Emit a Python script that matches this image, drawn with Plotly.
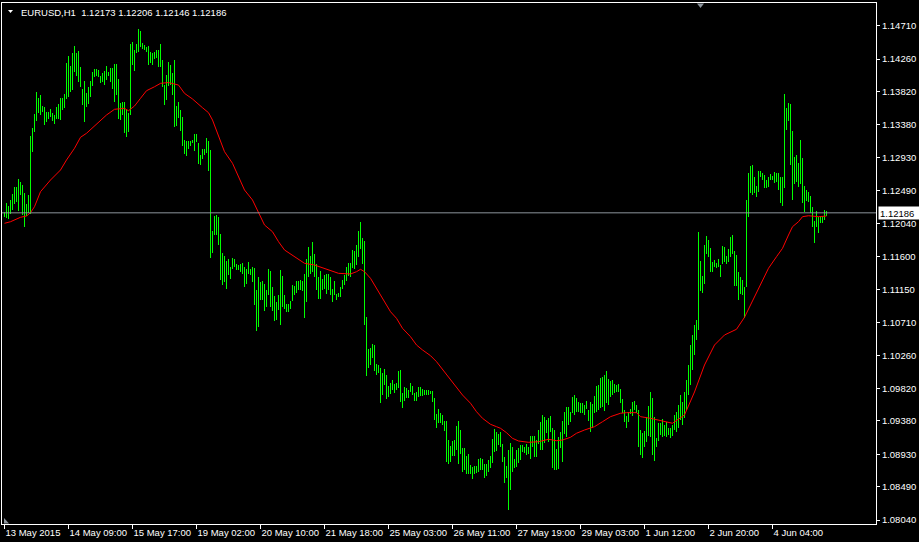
import plotly.graph_objects as go

# ---------------- data (EURUSD H1, bar index = hours since first bar) ----------------
high = [
    1.12191, 1.12321, 1.12276, 1.12357, 1.12438, 1.12528, 1.12537, 1.12641, 1.12605, 1.12560,
    1.12452, 1.12303, 1.12425, 1.13221, 1.13325, 1.13514, 1.13815, 1.13730, 1.13775, 1.13626,
    1.13608, 1.13550, 1.13545, 1.13581, 1.13536, 1.13505, 1.13608, 1.13653, 1.13730, 1.13734,
    1.13788, 1.14202, 1.14306, 1.14166, 1.14337, 1.14436, 1.14337, 1.14368, 1.14157, 1.13856,
    1.13964, 1.13806, 1.13887, 1.13964, 1.14089, 1.14121, 1.14121, 1.14112, 1.14031, 1.14067,
    1.14103, 1.14166, 1.14089, 1.14144, 1.14135, 1.14193, 1.14188, 1.13990, 1.13662, 1.13685,
    1.13676, 1.13572, 1.13527, 1.14463, 1.14494, 1.14382, 1.14463, 1.14661, 1.14638, 1.14481,
    1.14449, 1.14427, 1.14436, 1.14360, 1.14337, 1.14360, 1.14382, 1.14382, 1.14463, 1.14247,
    1.13910, 1.14045, 1.14225, 1.14180, 1.14067, 1.14247, 1.13626, 1.13685, 1.13572, 1.13482,
    1.13167, 1.13153, 1.13153, 1.13153, 1.13167, 1.13248, 1.13248, 1.13122, 1.12964, 1.13041,
    1.13054, 1.13189, 1.13153, 1.13032, 1.11939, 1.12141, 1.12154, 1.12132, 1.11907, 1.11650,
    1.11601, 1.11538, 1.11569, 1.11457, 1.11579, 1.11569, 1.11502, 1.11479, 1.11502, 1.11511,
    1.11457, 1.11434, 1.11524, 1.11434, 1.11457, 1.11448, 1.11142, 1.11322, 1.11254, 1.11268,
    1.11223, 1.11142, 1.11434, 1.11403, 1.11187, 1.11061, 1.10984, 1.11074, 1.11412, 1.11331,
    1.11074, 1.10962, 1.10962, 1.10998, 1.11209, 1.11196, 1.11268, 1.11268, 1.11277, 1.11268,
    1.11367, 1.11569, 1.11727, 1.11601, 1.11794, 1.11637, 1.11502, 1.11322, 1.11403, 1.11299,
    1.11344, 1.11367, 1.11367, 1.11322, 1.11164, 1.11268, 1.11097, 1.11108, 1.11189, 1.11279,
    1.11346, 1.11459, 1.11504, 1.11513, 1.11684, 1.11671, 1.11751, 1.11940, 1.12058, 1.11841,
    1.11806, 1.10775, 1.10343, 1.10357, 1.10415, 1.10402, 1.10145, 1.10132, 1.10087, 1.10019,
    1.10073, 1.09996, 1.09848, 1.09884, 1.09929, 1.09875, 1.09884, 1.10051, 1.10064, 1.09749,
    1.09839, 1.09817, 1.09794, 1.09884, 1.09848, 1.09749, 1.09772, 1.09830, 1.09839, 1.09808,
    1.09794, 1.09794, 1.09794, 1.09781, 1.09781, 1.09682, 1.09470, 1.09538, 1.09479, 1.09457,
    1.09380, 1.09380, 1.09119, 1.09038, 1.09110, 1.09119, 1.09308, 1.09376, 1.09254, 1.09020,
    1.09007, 1.08903, 1.08939, 1.08782, 1.08759, 1.08768, 1.08768, 1.08863, 1.08881, 1.08863,
    1.08804, 1.08795, 1.08858, 1.08903, 1.09133, 1.09268, 1.09232, 1.09200, 1.09223, 1.09074,
    1.08894, 1.08769, 1.08985, 1.09075, 1.09021, 1.08868, 1.08985, 1.09008, 1.09053, 1.09053,
    1.09030, 1.09066, 1.09021, 1.09174, 1.09174, 1.09174, 1.09120, 1.09255, 1.09368, 1.09458,
    1.09435, 1.09390, 1.09413, 1.09444, 1.09278, 1.09255, 1.08994, 1.09165, 1.09233, 1.09377,
    1.09503, 1.09561, 1.09570, 1.09503, 1.09696, 1.09728, 1.09683, 1.09638, 1.09624, 1.09615,
    1.09593, 1.09651, 1.09525, 1.09638, 1.09606, 1.09714, 1.09849, 1.09863, 1.09953, 1.09975,
    1.09998, 1.10052, 1.09939, 1.09921, 1.09930, 1.09876, 1.09863, 1.09876, 1.09804, 1.09669,
    1.09525, 1.09444, 1.09503, 1.09534, 1.09638, 1.09651, 1.09593, 1.09525, 1.09255, 1.09219,
    1.09246, 1.09426, 1.09579, 1.09764, 1.09683, 1.09435, 1.09143, 1.09345, 1.09345, 1.09399,
    1.09323, 1.09368, 1.09278, 1.09278, 1.09323, 1.09459, 1.09499, 1.09594, 1.09729, 1.09634,
    1.09769, 1.09931, 1.10133, 1.10403, 1.10538, 1.10673, 1.10740, 1.11931, 1.11535, 1.11332,
    1.11750, 1.11872, 1.11818, 1.11715, 1.11526, 1.11548, 1.11512, 1.11562, 1.11481, 1.11737,
    1.11719, 1.11607, 1.11692, 1.11863, 1.11886, 1.11670, 1.11616, 1.11391, 1.11323, 1.11278,
    1.11188, 1.12358, 1.12727, 1.12817, 1.12831, 1.12664, 1.12547, 1.12750, 1.12750, 1.12727,
    1.12696, 1.12628, 1.12673, 1.12709, 1.12682, 1.12732, 1.12718, 1.12727, 1.12673, 1.12673,
    1.13789, 1.13605, 1.13672, 1.13654, 1.13290, 1.12943, 1.12966, 1.12853, 1.13168, 1.12930,
    1.12547, 1.12493, 1.12471, 1.12412, 1.12268, 1.12079, 1.12210, 1.12133, 1.12124, 1.12142,
    1.12223, 1.12206,
]

low = [
    1.12132, 1.12123, 1.12101, 1.12164, 1.12222, 1.12299, 1.12335, 1.12213, 1.12425, 1.12155,
    1.11997, 1.12141, 1.12186, 1.12177, 1.13010, 1.13280, 1.13428, 1.13527, 1.13505, 1.13550,
    1.13370, 1.13415, 1.13446, 1.13473, 1.13428, 1.13383, 1.13446, 1.13446, 1.13442, 1.13572,
    1.13595, 1.13721, 1.13743, 1.13820, 1.13842, 1.14089, 1.14036, 1.13950, 1.13878, 1.13640,
    1.13415, 1.13608, 1.13653, 1.13752, 1.13896, 1.14013, 1.14031, 1.14022, 1.13932, 1.13955,
    1.13910, 1.13977, 1.14031, 1.13950, 1.13851, 1.13685, 1.13775, 1.13446, 1.13437, 1.13505,
    1.13257, 1.13212, 1.13280, 1.13505, 1.14179, 1.14098, 1.14337, 1.14360, 1.14427, 1.14391,
    1.14382, 1.14351, 1.14179, 1.14202, 1.14179, 1.14256, 1.14270, 1.14157, 1.14148, 1.13878,
    1.13640, 1.13707, 1.13896, 1.13910, 1.13775, 1.13347, 1.13356, 1.13460, 1.13289, 1.13090,
    1.12978, 1.12955, 1.13054, 1.13086, 1.13122, 1.13023, 1.13144, 1.12843, 1.12829, 1.12906,
    1.12964, 1.12996, 1.12753, 1.11579, 1.11646, 1.11884, 1.11884, 1.11749, 1.11277, 1.11209,
    1.11254, 1.11160, 1.11344, 1.11299, 1.11435, 1.11457, 1.11421, 1.11412, 1.11390, 1.11367,
    1.11187, 1.11232, 1.11367, 1.11344, 1.11254, 1.10939, 1.10593, 1.10647, 1.11007, 1.11007,
    1.10863, 1.10917, 1.11074, 1.10917, 1.10863, 1.10728, 1.10737, 1.10872, 1.10669, 1.10917,
    1.10894, 1.10849, 1.10849, 1.10894, 1.10998, 1.11074, 1.11106, 1.11142, 1.11142, 1.11133,
    1.10769, 1.10984, 1.11322, 1.11367, 1.11390, 1.11322, 1.11142, 1.11029, 1.11029, 1.11142,
    1.11164, 1.11097, 1.11142, 1.11074, 1.10984, 1.11074, 1.11007, 1.11045, 1.11054, 1.11153,
    1.11211, 1.11270, 1.11333, 1.11315, 1.11436, 1.11423, 1.11481, 1.11594, 1.11693, 1.11495,
    1.10671, 1.09983, 1.10087, 1.10132, 1.10221, 1.10055, 1.09996, 1.10019, 1.09623, 1.09727,
    1.09862, 1.09677, 1.09704, 1.09740, 1.09794, 1.09758, 1.09794, 1.09817, 1.09637, 1.09555,
    1.09650, 1.09682, 1.09691, 1.09772, 1.09727, 1.09650, 1.09650, 1.09704, 1.09713, 1.09713,
    1.09722, 1.09727, 1.09727, 1.09736, 1.09637, 1.09389, 1.09277, 1.09344, 1.09344, 1.09322,
    1.09245, 1.08822, 1.08804, 1.08827, 1.08903, 1.08903, 1.08984, 1.08804, 1.08939, 1.08692,
    1.08714, 1.08660, 1.08669, 1.08669, 1.08593, 1.08660, 1.08678, 1.08687, 1.08723, 1.08714,
    1.08611, 1.08638, 1.08692, 1.08737, 1.08813, 1.08962, 1.08975, 1.09052, 1.09029, 1.08818,
    1.08543, 1.08608, 1.08177, 1.08447, 1.08689, 1.08737, 1.08751, 1.08805, 1.08850, 1.08963,
    1.08949, 1.08918, 1.08931, 1.08859, 1.09021, 1.08895, 1.08895, 1.09066, 1.08985, 1.08985,
    1.09084, 1.09219, 1.09098, 1.09233, 1.08737, 1.08715, 1.08715, 1.08724, 1.09008, 1.08828,
    1.09201, 1.09156, 1.09323, 1.09368, 1.09480, 1.09458, 1.09503, 1.09503, 1.09480, 1.09489,
    1.09458, 1.09534, 1.09381, 1.09233, 1.09278, 1.09489, 1.09503, 1.09525, 1.09548, 1.09570,
    1.09516, 1.09624, 1.09593, 1.09705, 1.09728, 1.09750, 1.09764, 1.09773, 1.09615, 1.09489,
    1.09368, 1.09278, 1.09368, 1.09471, 1.09444, 1.09525, 1.09480, 1.09021, 1.08918, 1.08873,
    1.09021, 1.09098, 1.09174, 1.09165, 1.08918, 1.08841, 1.09021, 1.09111, 1.09188, 1.09165,
    1.09174, 1.09156, 1.09188, 1.09143, 1.09174, 1.09256, 1.09229, 1.09283, 1.09391, 1.09324,
    1.09418, 1.09526, 1.09729, 1.09863, 1.10066, 1.10268, 1.10470, 1.10605, 1.11134, 1.11107,
    1.11224, 1.11629, 1.11584, 1.11391, 1.11391, 1.11458, 1.11436, 1.11449, 1.11314, 1.11494,
    1.11526, 1.11490, 1.11517, 1.11593, 1.11629, 1.11203, 1.11197, 1.11008, 1.11089, 1.11076,
    1.10774, 1.11179, 1.12133, 1.12448, 1.12426, 1.12448, 1.12403, 1.12471, 1.12673, 1.12628,
    1.12516, 1.12516, 1.12538, 1.12628, 1.12628, 1.12583, 1.12606, 1.12493, 1.12313, 1.12277,
    1.12525, 1.13303, 1.13429, 1.12831, 1.12358, 1.12574, 1.12606, 1.12529, 1.12574, 1.12322,
    1.12200, 1.12349, 1.12336, 1.12178, 1.11989, 1.11773, 1.11989, 1.11917, 1.12052, 1.12043,
    1.12088, 1.12146,
]

# moving average (red line) read at sample bars
ma_bar = [0, 3, 8, 11, 13, 15, 18, 23, 28, 31, 35, 38, 41, 45, 48, 51, 55, 58, 60, 62,
          65, 68, 71, 75, 78, 82, 87, 90, 94, 99, 102, 104, 107, 110, 114, 117, 120, 124, 127, 130,
          134, 137, 140, 144, 147, 150, 155, 160, 164, 167, 173, 176, 178, 180, 183, 186, 189, 193, 196, 199,
          203, 206, 209, 213, 216, 219, 223, 226, 229, 233, 236, 239, 243, 246, 248, 251, 254, 257, 262, 267,
          272, 276, 279, 283, 286, 290, 295, 299, 303, 308, 311, 316, 318, 323, 327, 330, 334, 340, 345, 350,
          355, 360, 366, 370, 372, 376, 379, 382, 386, 389, 392, 394, 397, 399, 402, 404, 407, 411]
ma_val = [1.12045, 1.12066, 1.12126, 1.12143, 1.12188, 1.12269, 1.12471, 1.12629, 1.12764, 1.12899,
          1.13057, 1.13205, 1.13259, 1.13357, 1.13438, 1.13506, 1.13583, 1.13596, 1.13596, 1.13564,
          1.13627, 1.13731, 1.13834, 1.13887, 1.13933, 1.13944, 1.13910, 1.13798, 1.13722, 1.13604,
          1.13537, 1.13438, 1.13236, 1.13011, 1.12854, 1.12673, 1.12494, 1.12359, 1.12180, 1.12022,
          1.11931, 1.11797, 1.11685, 1.11617, 1.11563, 1.11505, 1.11482, 1.11438, 1.11405, 1.11370,
          1.11361, 1.11392, 1.11424, 1.11392, 1.11303, 1.11168, 1.11019, 1.10852, 1.10763, 1.10628,
          1.10515, 1.10403, 1.10336, 1.10259, 1.10178, 1.10075, 1.09931, 1.09819, 1.09728, 1.09617,
          1.09503, 1.09414, 1.09333, 1.09301, 1.09279, 1.09220, 1.09144, 1.09108, 1.09090, 1.09098,
          1.09131, 1.09112, 1.09121, 1.09158, 1.09212, 1.09256, 1.09301, 1.09368, 1.09436, 1.09482,
          1.09490, 1.09490, 1.09436, 1.09414, 1.09391, 1.09368, 1.09347, 1.09459, 1.09769, 1.10133,
          1.10403, 1.10538, 1.10615, 1.10777, 1.10885, 1.11100, 1.11280, 1.11438, 1.11594, 1.11707,
          1.11887, 1.11999, 1.12066, 1.12134, 1.12147, 1.12143, 1.12134, 1.12143]

# axis ticks
price_ticks = [1.14710, 1.14260, 1.13820, 1.13380, 1.12930, 1.12490, 1.12040, 1.11600,
               1.11150, 1.10710, 1.10260, 1.09820, 1.09380, 1.08930, 1.08490, 1.08040]
time_tick_bars = [0, 32, 64, 96, 128, 160, 192, 224, 256, 288, 320, 352, 384]
time_tick_labels = ["13 May 2015", "14 May 09:00", "15 May 17:00", "19 May 02:00",
                    "20 May 10:00", "21 May 18:00", "25 May 03:00", "26 May 11:00",
                    "27 May 19:00", "29 May 03:00", "1 Jun 12:00", "2 Jun 20:00",
                    "4 Jun 04:00"]

symbol = "EURUSD,H1"
last_ohlc = [1.12173, 1.12206, 1.12146, 1.12186]   # open, high, low, close of last bar

# ---------------- figure ----------------
W, H = 919, 542
ML, MR, MT, MB = 2, 43, 3, 18
FONT = "Liberation Sans"
FS = 9.5

assert len(high) == len(low)
idx = list(range(len(high)))

fig = go.Figure()
fig.add_trace(go.Bar(
    x=idx, y=[h - l for h, l in zip(high, low)], base=low, width=0.45,
    marker=dict(color="#00ff00", line=dict(width=0)), hoverinfo="skip",
))
fig.add_trace(go.Scatter(
    x=ma_bar, y=ma_val, mode="lines",
    line=dict(color="#ff0000", width=1), hoverinfo="skip",
))

pw, ph = W - ML - MR, H - MT - MB


def fx(px):
    return (px - ML) / pw


def fy(py):
    return (H - MB - py) / ph


shapes = [
    # current price line
    dict(type="line", xref="paper", x0=0, x1=1, yref="y", y0=last_ohlc[3], y1=last_ohlc[3],
         line=dict(color="#8c949c", width=1), layer="above"),
    # header triangle
    dict(type="path", xref="paper", yref="paper",
         path=f"M {fx(8)},{fy(10)} L {fx(13)},{fy(10)} L {fx(10.5)},{fy(13)} Z",
         fillcolor="#ffffff", line=dict(width=0)),
    # chart shift marker
    dict(type="path", xref="paper", yref="paper",
         path=f"M {fx(697)},{fy(3.5)} L {fx(704)},{fy(3.5)} L {fx(700.5)},{fy(8)} Z",
         fillcolor="#8c949c", line=dict(width=0)),
    # bottom-left scroll marker
    dict(type="path", xref="paper", yref="paper",
         path=f"M {fx(4)},{fy(518)} L {fx(4)},{fy(523.5)} L {fx(9)},{fy(523.5)} Z",
         fillcolor="#8c949c", line=dict(width=0)),
]

header = f"{symbol}  " + " ".join(f"{v:.5f}" for v in last_ohlc)

annotations = [
    dict(text=header, xref="paper", yref="paper", x=fx(19), y=fy(12),
         xanchor="left", yanchor="middle", showarrow=False,
         font=dict(family=FONT, size=FS, color="#ffffff")),
    dict(text=f"{last_ohlc[3]:.5f}", xref="paper", yref="y", x=1, y=last_ohlc[3],
         xanchor="left", yanchor="middle", xshift=2, showarrow=False,
         bgcolor="#ffffff", borderpad=1, width=38, height=10, align="left",
         font=dict(family=FONT, size=FS, color="#000000")),
]

fig.update_layout(
    width=W, height=H, autosize=False,
    margin=dict(l=ML, r=MR, t=MT, b=MB, pad=0),
    paper_bgcolor="#000000", plot_bgcolor="#000000",
    showlegend=False, hovermode=False, bargap=0,
    shapes=shapes, annotations=annotations,
    xaxis=dict(
        range=[-1.25, 435.75], showgrid=False, zeroline=False, automargin=False,
        showline=True, mirror=True, linecolor="#ffffff", linewidth=1,
        tickmode="array", tickvals=time_tick_bars, ticktext=time_tick_labels,
        ticks="outside", ticklen=4, tickcolor="#ffffff", tickwidth=1, tickangle=0,
        ticklabelposition="outside right",
        tickfont=dict(family=FONT, size=FS, color="#ffffff"),
    ),
    yaxis=dict(
        range=[1.07988, 1.15017], side="right", showgrid=False, zeroline=False,
        automargin=False,
        showline=True, mirror=True, linecolor="#ffffff", linewidth=1,
        tickmode="array", tickvals=price_ticks, tickformat=".5f",
        ticks="outside", ticklen=3, tickcolor="#ffffff", tickwidth=1,
        tickfont=dict(family=FONT, size=FS, color="#ffffff"),
    ),
)

fig.write_html(
    "out.html",
    config={"displayModeBar": False},
    post_script="document.body.style.margin='0';document.body.style.background='#000';",
)
